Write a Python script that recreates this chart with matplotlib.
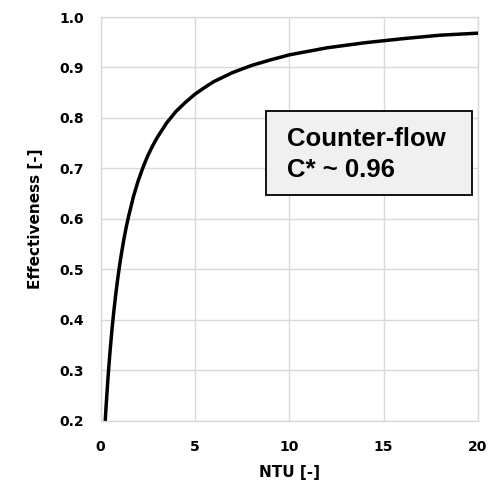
import numpy as np
import matplotlib.pyplot as plt
from matplotlib.patches import Rectangle

# values
ntu = [0.25, 0.3, 0.4, 0.5, 0.6, 0.7, 0.8, 0.9, 1.0, 1.125, 1.25, 1.375, 1.5, 1.75, 2.0, 2.25, 2.5, 2.75, 3.0, 3.5, 4.0, 4.5, 5.0, 5.5, 6.0, 7.0, 8.0, 9.0, 10.0, 12.0, 14.0, 16.0, 18.0, 20.0]
eff = [0.200, 0.231, 0.287, 0.335, 0.378, 0.415, 0.448, 0.478, 0.505, 0.535, 0.562, 0.586, 0.607, 0.645, 0.676, 0.702, 0.725, 0.744, 0.761, 0.790, 0.813, 0.831, 0.847, 0.860, 0.872, 0.890, 0.904, 0.915, 0.925, 0.939, 0.949, 0.957, 0.964, 0.968]

xticks = [0, 5, 10, 15, 20]
yticks = [0.2, 0.3, 0.4, 0.5, 0.6, 0.7, 0.8, 0.9, 1.0]
label_lines = ["Counter-flow", "C* ~ 0.96"]

fig = plt.figure(figsize=(5, 4.86), dpi=100)
ax = fig.add_axes([0.201, 0.134, 0.755, 0.831])

ax.plot(ntu, eff, color="black", lw=2.5, solid_capstyle="butt", solid_joinstyle="round", zorder=3)

ax.set_xlim(0, 20)
ax.set_ylim(0.2, 1.0)
ax.set_xticks(xticks)
ax.set_yticks(yticks)
ax.set_xticklabels([str(t) for t in xticks])
ax.set_yticklabels(["%.1f" % t for t in yticks])
ax.grid(True, color="#d9d9d9", lw=1.0)
ax.set_axisbelow(True)
for s in ax.spines.values():
    s.set_color("#d9d9d9")
    s.set_linewidth(1.0)
ax.tick_params(length=0, labelsize=10, pad=12)
ax.tick_params(axis="x", pad=14)
for lab in ax.get_xticklabels() + ax.get_yticklabels():
    lab.set_fontweight("bold")

ax.set_xlabel("NTU [-]", fontsize=11, fontweight="bold", labelpad=8)
ax.set_ylabel("Effectiveness [-]", fontsize=11, fontweight="bold", labelpad=12)

# annotation box
ax.add_patch(Rectangle((0.438, 0.559), 0.546, 0.208, transform=ax.transAxes,
                       facecolor="#f0f0f0", edgecolor="black", lw=1.3, zorder=4))
ax.text(0.494, 0.699, label_lines[0], transform=ax.transAxes, fontsize=18.5,
        fontweight="bold", family=["Liberation Sans", "DejaVu Sans"], va="center", zorder=5)
ax.text(0.494, 0.622, label_lines[1], transform=ax.transAxes, fontsize=18.5,
        fontweight="bold", family=["Liberation Sans", "DejaVu Sans"], va="center", zorder=5)

fig.savefig("out.png", dpi=100)
